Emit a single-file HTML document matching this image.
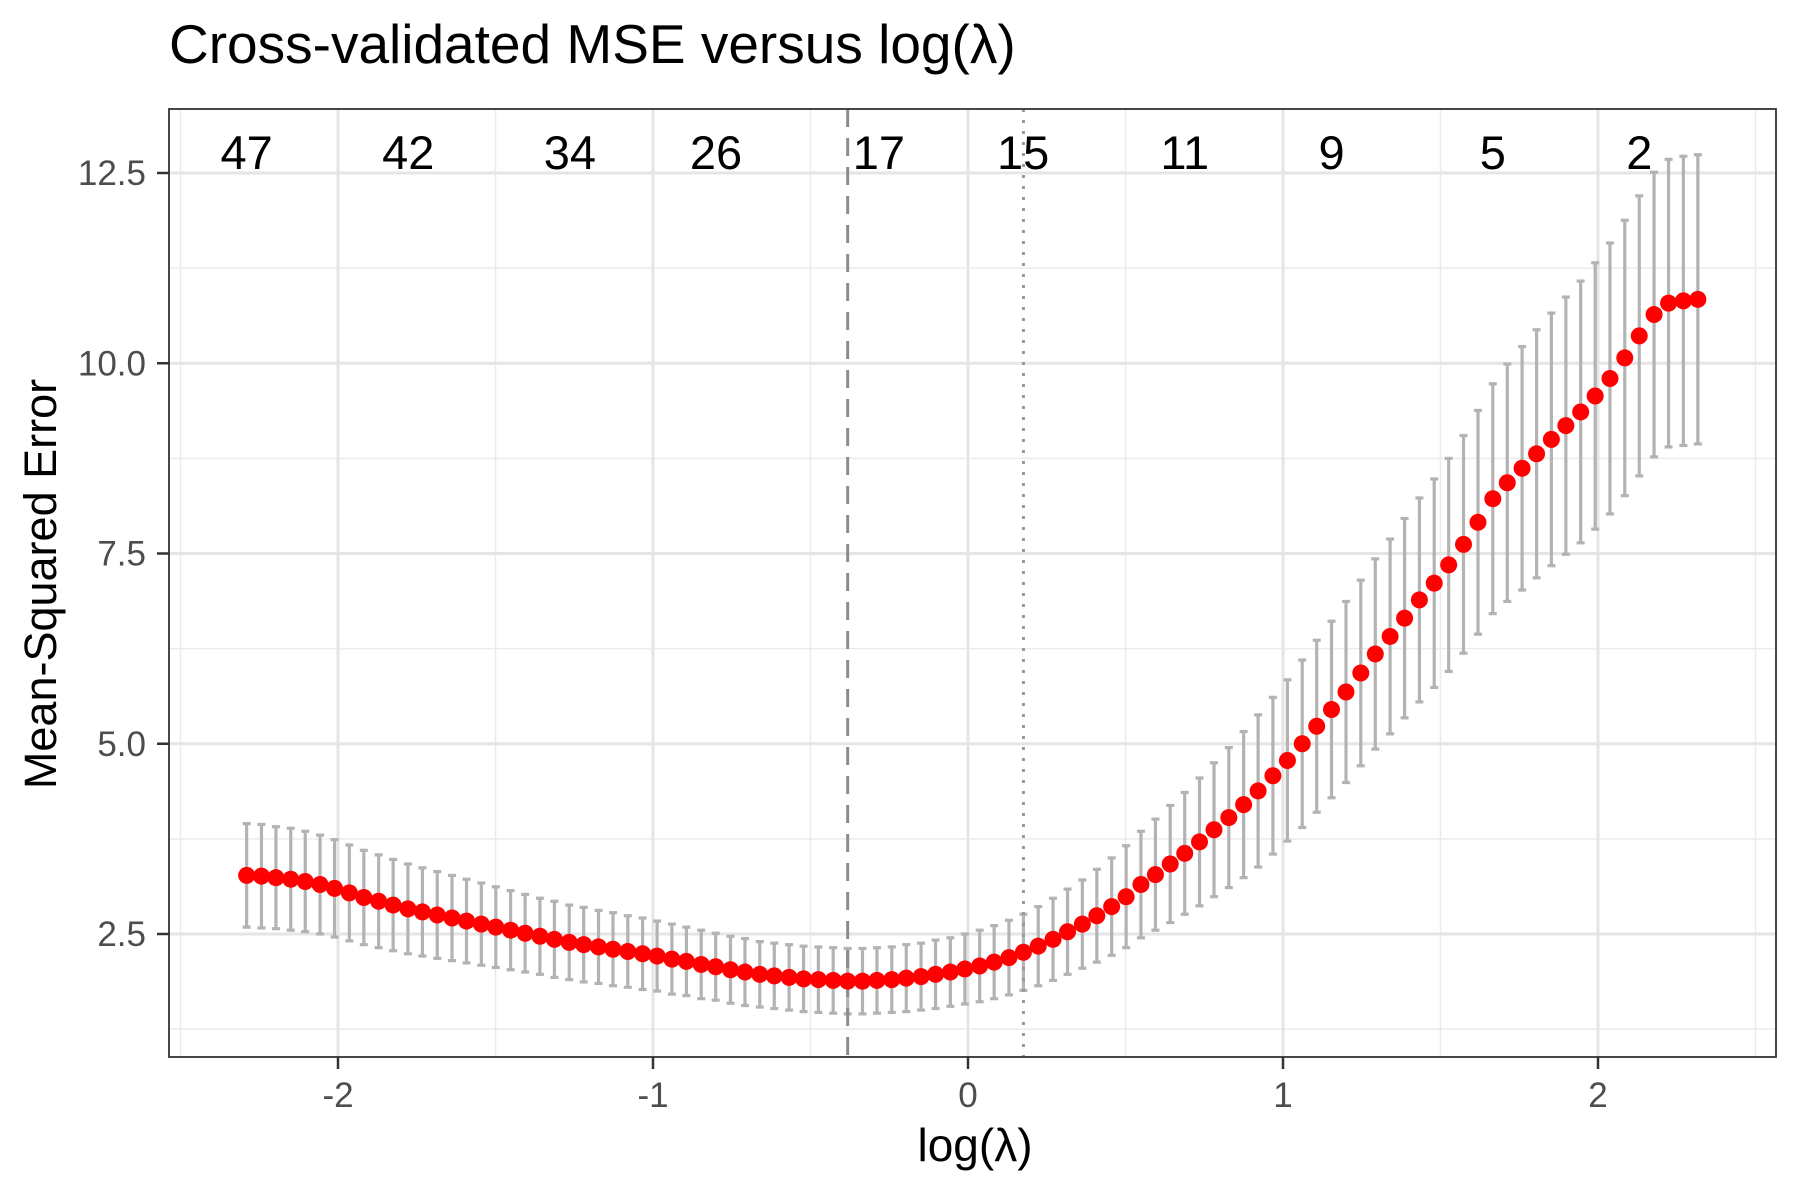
<!DOCTYPE html>
<html><head><meta charset="utf-8"><style>
html,body{margin:0;padding:0;background:#fff;}
svg{display:block;font-family:"Liberation Sans",sans-serif;}
</style></head><body>
<svg id="chart" width="1800" height="1200" viewBox="0 0 1800 1200">
<text x="169" y="63" font-size="55" fill="#000">Cross-validated MSE versus log(λ)</text>
<g id="grid"></g>
<g id="marks"></g>
<rect x="169" y="109" width="1607" height="948" fill="none" stroke="#333" stroke-width="1.8"/>
<g id="axes"></g>
<text x="975" y="1161" font-size="46" text-anchor="middle">log(λ)</text>
<text transform="translate(56,584) rotate(-90)" font-size="45" text-anchor="middle">Mean-Squared Error</text>
</svg>
<script>
const logLambda=[-2.29,-2.243,-2.197,-2.15,-2.104,-2.057,-2.011,-1.964,-1.918,-1.871,-1.825,-1.778,-1.732,-1.685,-1.638,-1.592,-1.545,-1.499,-1.452,-1.406,-1.359,-1.313,-1.266,-1.22,-1.173,-1.127,-1.08,-1.033,-0.987,-0.94,-0.894,-0.847,-0.801,-0.754,-0.708,-0.661,-0.615,-0.568,-0.522,-0.475,-0.428,-0.382,-0.335,-0.289,-0.242,-0.196,-0.149,-0.103,-0.056,-0.01,0.037,0.083,0.13,0.176,0.223,0.27,0.316,0.363,0.409,0.456,0.502,0.549,0.595,0.642,0.688,0.735,0.781,0.828,0.875,0.921,0.968,1.014,1.061,1.107,1.154,1.2,1.247,1.293,1.34,1.386,1.433,1.48,1.526,1.573,1.619,1.666,1.712,1.759,1.805,1.852,1.898,1.945,1.991,2.038,2.085,2.131,2.178,2.224,2.271,2.317];
const mse=[3.27,3.26,3.24,3.22,3.19,3.15,3.10,3.04,2.98,2.93,2.88,2.83,2.79,2.75,2.71,2.67,2.63,2.59,2.55,2.51,2.47,2.43,2.39,2.36,2.33,2.30,2.27,2.24,2.21,2.17,2.14,2.10,2.07,2.03,2.00,1.97,1.95,1.93,1.91,1.90,1.89,1.88,1.88,1.89,1.90,1.92,1.94,1.97,2.00,2.04,2.08,2.13,2.19,2.26,2.34,2.43,2.53,2.63,2.74,2.86,2.99,3.15,3.28,3.42,3.56,3.71,3.87,4.03,4.20,4.38,4.58,4.78,5.00,5.23,5.45,5.68,5.93,6.18,6.41,6.65,6.89,7.11,7.35,7.62,7.91,8.22,8.43,8.62,8.81,9.00,9.18,9.36,9.57,9.80,10.07,10.36,10.64,10.79,10.82,10.84];
const se=[.68,.68,.67,.67,.66,.65,.64,.63,.62,.61,.60,.59,.58,.57,.56,.55,.54,.53,.52,.51,.50,.50,.49,.49,.48,.48,.47,.47,.46,.46,.45,.45,.44,.44,.44,.43,.43,.43,.43,.43,.43,.43,.43,.43,.43,.44,.44,.45,.45,.46,.47,.48,.49,.50,.52,.54,.56,.58,.61,.64,.67,.70,.73,.77,.80,.84,.88,.92,.96,1.00,1.03,1.06,1.10,1.13,1.16,1.19,1.22,1.25,1.28,1.31,1.34,1.37,1.40,1.43,1.47,1.51,1.56,1.60,1.63,1.66,1.69,1.72,1.75,1.78,1.81,1.84,1.87,1.89,1.90,1.90];
const xTicks=[-2,-1,0,1,2];
const xTickLabels=["-2","-1","0","1","2"];
const xMinor=[-2.5,-1.5,-0.5,0.5,1.5,2.5];
const yTicks=[2.5,5,7.5,10,12.5];
const yTickLabels=["2.5","5.0","7.5","10.0","12.5"];
const yMinor=[1.25,3.75,6.25,8.75,11.25];
const nzPos=[-2.29,-1.777,-1.264,-0.8,-0.283,0.175,0.688,1.154,1.666,2.131];
const nzLabels=["47","42","34","26","17","15","11","9","5","2"];
const lambdaMin=-0.382;
const lambda1se=0.176;

const NS="http://www.w3.org/2000/svg";
const X=v=>968+v*315;
const Y=v=>934-(v-2.5)*76.1;
const L=169,R=1776,T=109,B=1057;
function mk(tag,attrs,parent){const e=document.createElementNS(NS,tag);for(const k in attrs)e.setAttribute(k,attrs[k]);parent.appendChild(e);return e;}
const grid=document.getElementById('grid'),marks=document.getElementById('marks'),axes=document.getElementById('axes');
xMinor.forEach(v=>{const e=mk('line',{x1:X(v),x2:X(v),y1:T,y2:B,stroke:'#ebebeb','stroke-width':1.5},grid);

});
yMinor.forEach(v=>{const e=mk('line',{x1:L,x2:R,y1:Y(v),y2:Y(v),stroke:'#ebebeb','stroke-width':1.5},grid);

});
xTicks.forEach((v,i)=>{const e=mk('line',{x1:X(v),x2:X(v),y1:T,y2:B,stroke:'#e5e5e5','stroke-width':3},grid);


const t=mk('line',{x1:X(v),x2:X(v),y1:B,y2:B+12,stroke:'#333','stroke-width':2.5},axes);


const s=mk('text',{x:X(v),y:B+50,'font-size':35,fill:'#4d4d4d','text-anchor':'middle'},axes);s.textContent=xTickLabels[i];

});
yTicks.forEach((v,i)=>{const e=mk('line',{x1:L,x2:R,y1:Y(v),y2:Y(v),stroke:'#e5e5e5','stroke-width':3},grid);


const t=mk('line',{x1:L-12,x2:L,y1:Y(v),y2:Y(v),stroke:'#333','stroke-width':2.5},axes);


const s=mk('text',{x:L-23,y:Y(v)+12,'font-size':35,fill:'#4d4d4d','text-anchor':'end'},axes);s.textContent=yTickLabels[i];

});
logLambda.forEach((v,i)=>{const x=X(v),y1=Y(mse[i]+se[i]),y2=Y(mse[i]-se[i]);
const g=mk('g',{stroke:'#b3b3b3','stroke-width':3.2},marks);


mk('line',{x1:x,x2:x,y1:y1,y2:y2},g);mk('line',{x1:x-4,x2:x+4,y1:y1,y2:y1},g);mk('line',{x1:x-4,x2:x+4,y1:y2,y2:y2},g);});
const vd=mk('line',{x1:X(lambdaMin),x2:X(lambdaMin),y1:T,y2:B,stroke:'#8c8c8c','stroke-width':3,'stroke-dasharray':'18 11'},marks);


const vo=mk('line',{x1:X(lambda1se),x2:X(lambda1se),y1:T,y2:B,stroke:'#9a9a9a','stroke-width':3,'stroke-dasharray':'3 8'},marks);


logLambda.forEach((v,i)=>{const c=mk('circle',{cx:X(v),cy:Y(mse[i]),r:8.5,fill:'#ff0000'},marks);

});
nzPos.forEach((v,i)=>{const s=mk('text',{x:X(v),y:169,'font-size':47,fill:'#000','text-anchor':'middle'},marks);s.textContent=nzLabels[i];

});
</script>
</body></html>
